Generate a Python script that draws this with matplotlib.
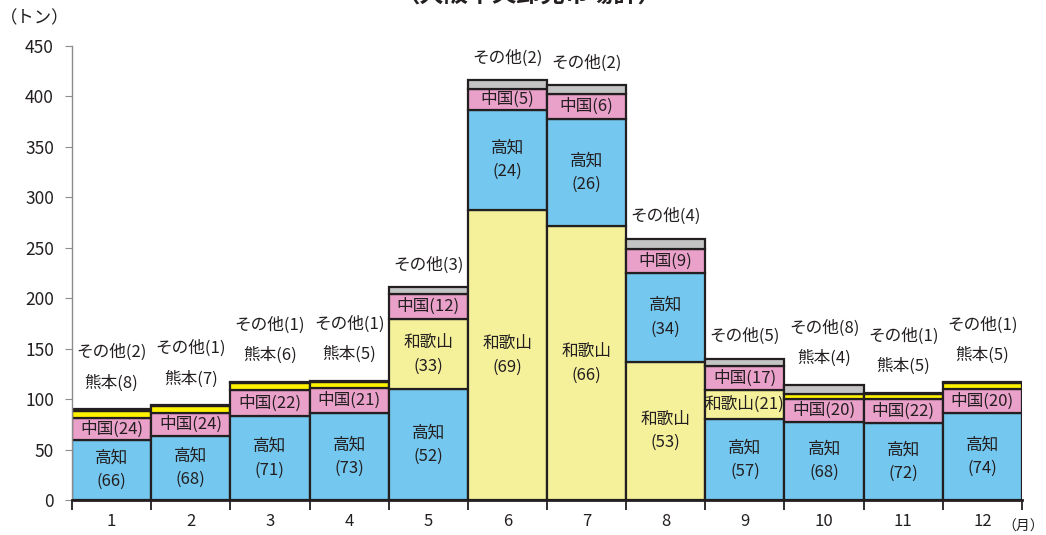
import matplotlib
matplotlib.use("Agg")
import matplotlib.pyplot as plt
from matplotlib.ticker import FixedLocator, NullFormatter

plt.rcParams['font.family'] = ['Noto Sans CJK JP', 'DejaVu Sans']

# Monthly arrivals (tons) and origin shares (%)
months = ["1", "2", "3", "4", "5", "6", "7", "8", "9", "10", "11", "12"]
totals = [90, 94, 117, 118, 211, 416, 411, 259, 140, 114, 106, 117]

kochi    = [66, 68, 71, 73, 52, 24, 26, 34, 57, 68, 72, 74]
wakayama = [0, 0, 0, 0, 33, 69, 66, 53, 21, 0, 0, 0]
chugoku  = [24, 24, 22, 21, 12, 5, 6, 9, 17, 20, 22, 20]
kumamoto = [8, 7, 6, 5, 0, 0, 0, 0, 0, 4, 5, 5]
others   = [2, 1, 1, 1, 3, 2, 2, 4, 5, 8, 1, 1]

series = {
    "高知": kochi,
    "和歌山": wakayama,
    "中国": chugoku,
    "熊本": kumamoto,
    "その他": others,
}
colors = {
    "高知": "#74C7EE",
    "和歌山": "#F5F19B",
    "中国": "#E9A0C9",
    "熊本": "#FFF200",
    "その他": "#C4C4C4",
}
inside = {"高知", "和歌山", "中国"}
edge = "#231F20"

fig = plt.figure(figsize=(10.46, 5.35), dpi=100)
ax = fig.add_axes([72 / 1046, 1 - 500 / 535, 950 / 1046, 454 / 535])

fs = 12
for i, total in enumerate(totals):
    x = i + 1
    shares = [(name, vals[i]) for name, vals in series.items()
              if vals[i] > 0 and name != "その他"]
    shares.sort(key=lambda t: -t[1])
    shares.append(("その他", others[i]))
    bottom = 0.0
    for name, pct in shares:
        h = total * pct / 100.0
        ax.bar(x, h, bottom=bottom, width=1.0, color=colors[name],
               edgecolor=edge, linewidth=1.6, zorder=2)
        if name in inside:
            cy = bottom + h / 2
            if name != "中国" and h > 40:
                txt = f"{name}\n({pct})"
                ax.text(x, cy, txt, ha="center", va="center", fontsize=fs,
                        color="#231F20", linespacing=1.5, zorder=3)
            else:
                ax.text(x, cy, f"{name}({pct})", ha="center", va="center",
                        fontsize=fs, color="#231F20", zorder=3)
        bottom += h
    top = bottom
    if kumamoto[i] > 0:
        ax.annotate(f"熊本({kumamoto[i]})", (x, top), xytext=(0, 19),
                    textcoords="offset points", ha="center", va="center",
                    fontsize=fs, color="#231F20")
        ax.annotate(f"その他({others[i]})", (x, top), xytext=(0, 41),
                    textcoords="offset points", ha="center", va="center",
                    fontsize=fs, color="#231F20")
    else:
        ax.annotate(f"その他({others[i]})", (x, top), xytext=(0, 16),
                    textcoords="offset points", ha="center", va="center",
                    fontsize=fs, color="#231F20")

ax.set_xlim(0.5, len(months) + 0.5)
ax.set_ylim(0, 450)
ax.set_yticks(range(0, 451, 50))
ax.tick_params(axis="y", labelsize=12.5, length=5, color="#8C8C8C",
               labelcolor="#231F20", pad=8)

# Month labels between boundary ticks
ax.xaxis.set_major_locator(FixedLocator([k + 0.5 for k in range(len(months) + 1)]))
ax.xaxis.set_major_formatter(NullFormatter())
ax.xaxis.set_minor_locator(FixedLocator([k + 1 for k in range(len(months))]))
ax.set_xticklabels(months, minor=True)
ax.tick_params(axis="x", which="major", length=7, width=1.3, color=edge)
ax.tick_params(axis="x", which="minor", length=0, labelsize=12,
               labelcolor="#231F20", pad=9)

for side in ("top", "right"):
    ax.spines[side].set_visible(False)
ax.spines["left"].set_color("#8C8C8C")
ax.spines["left"].set_linewidth(1.0)
ax.spines["bottom"].set_color(edge)
ax.spines["bottom"].set_linewidth(2.0)
ax.spines["bottom"].set_zorder(4)

fig.text(35 / 1046, 1 - 18 / 535, "（トン）", ha="center", va="center",
         fontsize=12.5, color="#231F20")
fig.text(1044 / 1046, 1 - 527 / 535, "（月）", ha="right", va="center",
         fontsize=10, color="#231F20")
fig.text(529 / 1046, 1 - 2 / 535, "（大阪中央卸売市場計）", ha="center",
         va="baseline", fontsize=17.5, fontweight="bold", color="#231F20")

fig.savefig("out.png", dpi=100)
